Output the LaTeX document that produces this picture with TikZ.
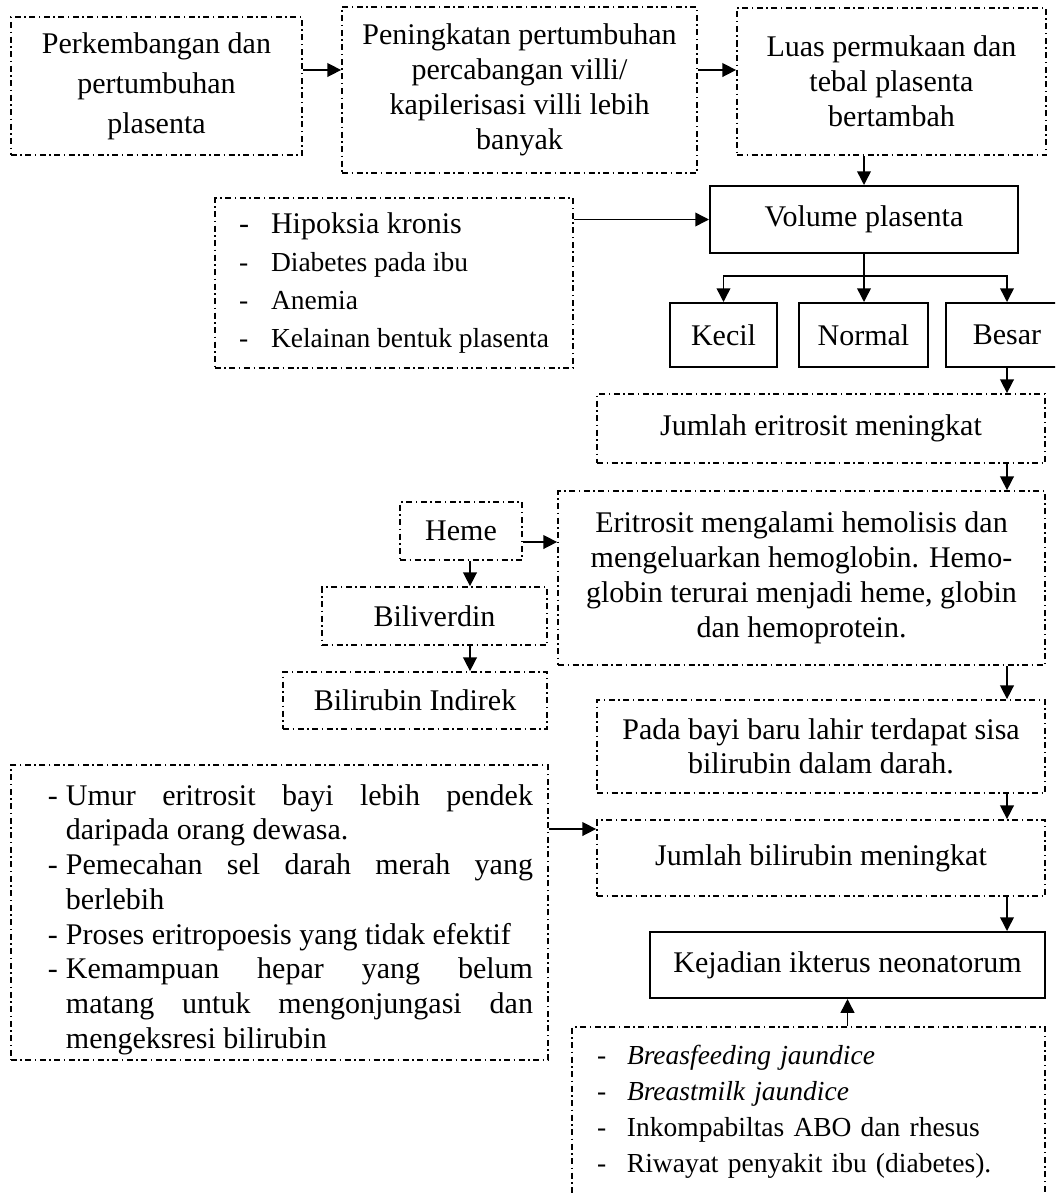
\documentclass[tikz,border=0pt]{standalone}
\usepackage{fontspec}
\setmainfont{Liberation Serif}
\usetikzlibrary{arrows.meta}
\newcommand{\butir}[1]{\par\noindent\hangindent=7.2pt\hangafter=1\makebox[7.2pt][l]{-}#1}
\begin{document}
\begin{tikzpicture}[x=0.4pt,y=-0.4pt,
    kotak/.style={draw,line width=0.7pt,dash pattern=on 2.4pt off 1.4pt on 0.6pt off 1.4pt,
      inner sep=2pt,align=center,font=\fontsize{12}{14}\selectfont},
    padat/.style={draw,line width=0.8pt,inner sep=2pt,align=center,font=\fontsize{12}{14}\selectfont},
    panah/.style={-{Triangle[length=5.5pt,width=5.5pt]},line width=0.6pt}]
    \useasboundingbox (0,0) rectangle (1055,1194);
    \clip (0,0) rectangle (1055,1194);

    % baris atas
    \node[kotak,minimum width=116.4pt,minimum height=55.2pt,font=\fontsize{12}{16}\selectfont] (perkembangan) at (156.5,86) {Perkembangan dan\\ pertumbuhan\\ plasenta};
    \node[kotak,minimum width=142pt,minimum height=66.4pt] (peningkatan) at (519.5,90) {Peningkatan pertumbuhan\\ percabangan villi/\\ kapilerisasi villi lebih\\ banyak};
    \node[kotak,minimum width=123.6pt,minimum height=58.8pt] (luas) at (891.5,81.5) {Luas permukaan dan\\ tebal plasenta\\ bertambah};

    % volume plasenta
    \node[padat,minimum width=123.2pt,minimum height=26.8pt] (volume) at (864,219.5) {Volume plasenta};
    \node[kotak,minimum width=143.2pt,minimum height=68pt,align=left,font=\fontsize{11}{15.2}\selectfont] (faktor) at (394,283)
      {{\fontsize{12}{15.2}\selectfont\makebox[12.8pt][l]{-}Hipoksia kronis}\\
       \makebox[12.8pt][l]{-}Diabetes pada ibu\\
       \makebox[12.8pt][l]{-}Anemia\\
       \makebox[12.8pt][l]{-}Kelainan bentuk plasenta};
    \node[padat,minimum width=42.8pt,minimum height=25.6pt] (kecil) at (723.5,335) {Kecil};
    \node[padat,minimum width=51.6pt,minimum height=25.6pt] (normal) at (863.5,335) {Normal};
    \node[padat,minimum width=48.8pt,minimum height=25.6pt] (besar) at (1007,335) {Besar};

    % eritrosit
    \node[kotak,minimum width=179.2pt,minimum height=27.6pt] (eritrositNaik) at (821,428.5) {Jumlah eritrosit meningkat};
    \node[kotak,minimum width=194.8pt,minimum height=69.6pt] (hemolisis) at (801.5,578) {Eritrosit mengalami hemolisis dan\\ mengeluarkan hemoglobin. Hemo-\\globin terurai menjadi heme, globin\\ dan hemoprotein.};
    \node[kotak,minimum width=48.8pt,minimum height=23.2pt] (heme) at (461,531) {Heme};
    \node[kotak,minimum width=90pt,minimum height=23.2pt] (biliverdin) at (434.5,616) {Biliverdin};
    \node[kotak,minimum width=105.6pt,minimum height=22.8pt] (bilirubin) at (415,700.5) {Bilirubin Indirek};

    % bilirubin
    \node[kotak,minimum width=179.2pt,minimum height=37.2pt,font=\fontsize{12}{13.4}\selectfont] (sisa) at (821,746.5) {Pada bayi baru lahir terdapat sisa\\ bilirubin dalam darah.};
    \node[kotak,minimum width=179.2pt,minimum height=30.4pt] (bilirubinNaik) at (821,858) {Jumlah bilirubin meningkat};
    \node[kotak,minimum width=214.8pt,minimum height=116.4pt,text width=202.8pt,align=justify,font=\fontsize{12}{13.9}\selectfont] (penyebab) at (279.5,912.5)
      {\leftskip=8.8pt\tolerance=10000\hyphenpenalty=10000
       \butir{Umur eritrosit bayi lebih pendek\linebreak daripada orang dewasa.}
       \butir{Pemecahan sel darah merah yang\linebreak berlebih}
       \butir{Proses eritropoesis yang tidak efektif}
       \butir{Kemampuan hepar yang belum\linebreak matang untuk mengonjungasi dan\linebreak mengeksresi bilirubin}\par};

    % ikterus
    \node[padat,minimum width=158pt,minimum height=26.4pt] (kejadian) at (847.5,965) {Kejadian ikterus neonatorum};
    \node[kotak,minimum width=189.2pt,minimum height=68pt,text width=169.2pt,align=left,font=\fontsize{11}{14.4}\selectfont] (faktorBayi) at (808.5,1112)
      {\makebox[12pt][l]{-}\textit{Breasfeeding jaundice}\\
       \makebox[12pt][l]{-}\textit{Breastmilk jaundice}\\
       \makebox[12pt][l]{-}Inkompabiltas ABO dan rhesus\\
       \makebox[12pt][l]{-}Riwayat penyakit ibu (diabetes).};

    % panah
    \draw[panah] ([yshift=6.4pt]perkembangan.east) -- ([yshift=6.4pt]perkembangan.east -| peningkatan.west);
    \draw[panah] ([yshift=8pt]peningkatan.east) -- ([yshift=8pt]peningkatan.east -| luas.west);
    \draw[panah] (volume.north |- luas.south) -- (volume.north);
    \draw[panah] (faktor.east |- volume.west) -- (volume.west);
    \coordinate (cabang) at (864,276);
    \draw[line width=0.6pt] (volume.south) -- (cabang);
    \draw[panah] (cabang) -| (kecil.north);
    \draw[panah] (cabang) -- (cabang |- normal.north);
    \draw[panah] (cabang) -| (besar.north);
    \draw[panah] (besar.south) -- (besar.south |- eritrositNaik.north);
    \draw[panah] (besar.south |- eritrositNaik.south) -- (besar.south |- hemolisis.north);
    \draw[panah] ([yshift=-4.4pt]heme.east) -- ([yshift=-4.4pt]heme.east -| hemolisis.west);
    \draw[panah] ([xshift=3.6pt]heme.south) -- ([xshift=3.6pt]heme.south |- biliverdin.north);
    \draw[panah] ([xshift=3.6pt]heme.south |- biliverdin.south) -- ([xshift=3.6pt]heme.south |- bilirubin.north);
    \draw[panah] (besar.south |- hemolisis.south) -- (besar.south |- sisa.north);
    \draw[panah] (besar.south |- sisa.south) -- (besar.south |- bilirubinNaik.north);
    \draw[panah] ([yshift=11.6pt]bilirubinNaik.west -| penyebab.east) -- ([yshift=11.6pt]bilirubinNaik.west);
    \draw[panah] (besar.south |- bilirubinNaik.south) -- (besar.south |- kejadian.north);
    \draw[panah] (kejadian.south |- faktorBayi.north) -- (kejadian.south);
\end{tikzpicture}
\end{document}
